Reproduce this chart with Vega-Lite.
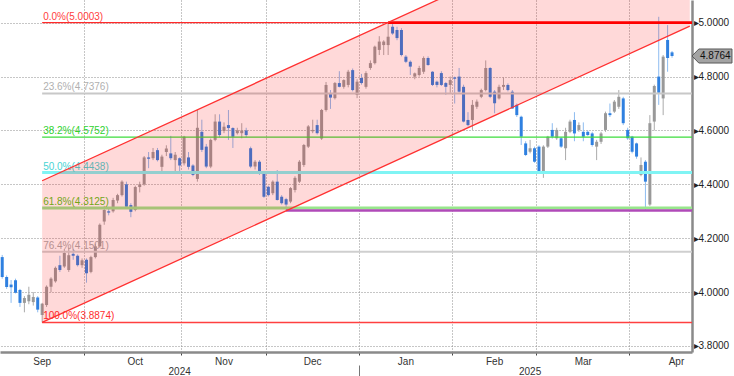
{
  "$schema": "https://vega.github.io/schema/vega-lite/v6.json",
  "width": 692,
  "height": 352,
  "padding": 0,
  "background": "white",
  "config": {"view": {"stroke": null}, "axis": {"labelFont": "Liberation Sans"}},
  "datasets": {
    "ohlc": [
      {"d":"2024-09-04","o":4.130,"h":4.138,"l":4.050,"c":4.056},
      {"d":"2024-09-05","o":4.056,"h":4.062,"l":4.012,"c":4.019},
      {"d":"2024-09-06","o":4.028,"h":4.045,"l":3.960,"c":4.018},
      {"d":"2024-09-09","o":4.044,"h":4.050,"l":3.995,"c":3.998},
      {"d":"2024-09-10","o":4.008,"h":4.012,"l":3.945,"c":3.960},
      {"d":"2024-09-11","o":3.960,"h":3.985,"l":3.925,"c":3.978},
      {"d":"2024-09-12","o":3.966,"h":4.020,"l":3.955,"c":3.990},
      {"d":"2024-09-13","o":3.963,"h":4.000,"l":3.950,"c":3.982},
      {"d":"2024-09-16","o":3.980,"h":3.985,"l":3.925,"c":3.935},
      {"d":"2024-09-17","o":3.915,"h":3.960,"l":3.8874,"c":3.957},
      {"d":"2024-09-18","o":3.952,"h":4.025,"l":3.945,"c":4.020},
      {"d":"2024-09-19","o":4.020,"h":4.055,"l":4.000,"c":4.050},
      {"d":"2024-09-20","o":4.040,"h":4.095,"l":4.035,"c":4.090},
      {"d":"2024-09-23","o":4.100,"h":4.135,"l":4.075,"c":4.082},
      {"d":"2024-09-24","o":4.095,"h":4.160,"l":4.090,"c":4.145},
      {"d":"2024-09-25","o":4.082,"h":4.165,"l":4.075,"c":4.137},
      {"d":"2024-09-26","o":4.142,"h":4.160,"l":4.120,"c":4.135},
      {"d":"2024-09-27","o":4.135,"h":4.140,"l":4.095,"c":4.100},
      {"d":"2024-09-30","o":4.100,"h":4.125,"l":4.090,"c":4.118},
      {"d":"2024-10-01","o":4.120,"h":4.125,"l":4.035,"c":4.070},
      {"d":"2024-10-02","o":4.075,"h":4.135,"l":4.070,"c":4.130},
      {"d":"2024-10-03","o":4.130,"h":4.180,"l":4.125,"c":4.170},
      {"d":"2024-10-04","o":4.170,"h":4.255,"l":4.165,"c":4.250},
      {"d":"2024-10-07","o":4.262,"h":4.320,"l":4.250,"c":4.305},
      {"d":"2024-10-08","o":4.300,"h":4.310,"l":4.285,"c":4.295},
      {"d":"2024-10-09","o":4.300,"h":4.350,"l":4.295,"c":4.342},
      {"d":"2024-10-10","o":4.340,"h":4.365,"l":4.330,"c":4.360},
      {"d":"2024-10-11","o":4.360,"h":4.415,"l":4.355,"c":4.410},
      {"d":"2024-10-15","o":4.400,"h":4.410,"l":4.310,"c":4.317},
      {"d":"2024-10-16","o":4.323,"h":4.330,"l":4.278,"c":4.298},
      {"d":"2024-10-17","o":4.305,"h":4.395,"l":4.300,"c":4.390},
      {"d":"2024-10-18","o":4.390,"h":4.410,"l":4.370,"c":4.400},
      {"d":"2024-10-21","o":4.400,"h":4.505,"l":4.395,"c":4.500},
      {"d":"2024-10-22","o":4.500,"h":4.520,"l":4.460,"c":4.495},
      {"d":"2024-10-23","o":4.497,"h":4.535,"l":4.490,"c":4.520},
      {"d":"2024-10-24","o":4.527,"h":4.535,"l":4.485,"c":4.490},
      {"d":"2024-10-25","o":4.465,"h":4.510,"l":4.440,"c":4.503},
      {"d":"2024-10-28","o":4.520,"h":4.545,"l":4.505,"c":4.533},
      {"d":"2024-10-29","o":4.515,"h":4.580,"l":4.490,"c":4.497},
      {"d":"2024-10-30","o":4.490,"h":4.520,"l":4.440,"c":4.510},
      {"d":"2024-10-31","o":4.497,"h":4.500,"l":4.440,"c":4.470},
      {"d":"2024-11-01","o":4.478,"h":4.580,"l":4.470,"c":4.577},
      {"d":"2024-11-04","o":4.500,"h":4.520,"l":4.455,"c":4.465},
      {"d":"2024-11-05","o":4.470,"h":4.475,"l":4.430,"c":4.435},
      {"d":"2024-11-06","o":4.420,"h":4.676,"l":4.410,"c":4.610},
      {"d":"2024-11-07","o":4.595,"h":4.640,"l":4.520,"c":4.528},
      {"d":"2024-11-08","o":4.540,"h":4.550,"l":4.460,"c":4.466},
      {"d":"2024-11-12","o":4.466,"h":4.570,"l":4.460,"c":4.565},
      {"d":"2024-11-13","o":4.565,"h":4.660,"l":4.560,"c":4.633},
      {"d":"2024-11-14","o":4.633,"h":4.660,"l":4.575,"c":4.583},
      {"d":"2024-11-15","o":4.598,"h":4.630,"l":4.590,"c":4.614},
      {"d":"2024-11-18","o":4.620,"h":4.676,"l":4.565,"c":4.609},
      {"d":"2024-11-19","o":4.609,"h":4.612,"l":4.535,"c":4.577},
      {"d":"2024-11-20","o":4.590,"h":4.610,"l":4.585,"c":4.600},
      {"d":"2024-11-21","o":4.590,"h":4.627,"l":4.571,"c":4.600},
      {"d":"2024-11-22","o":4.600,"h":4.610,"l":4.575,"c":4.583},
      {"d":"2024-11-25","o":4.534,"h":4.540,"l":4.460,"c":4.466},
      {"d":"2024-11-26","o":4.466,"h":4.490,"l":4.455,"c":4.484},
      {"d":"2024-11-27","o":4.484,"h":4.490,"l":4.435,"c":4.441},
      {"d":"2024-11-29","o":4.441,"h":4.445,"l":4.350,"c":4.354},
      {"d":"2024-12-02","o":4.391,"h":4.395,"l":4.355,"c":4.360},
      {"d":"2024-12-03","o":4.367,"h":4.415,"l":4.360,"c":4.410},
      {"d":"2024-12-04","o":4.410,"h":4.453,"l":4.340,"c":4.342},
      {"d":"2024-12-05","o":4.354,"h":4.360,"l":4.325,"c":4.330},
      {"d":"2024-12-06","o":4.345,"h":4.350,"l":4.303,"c":4.325},
      {"d":"2024-12-09","o":4.336,"h":4.390,"l":4.330,"c":4.386},
      {"d":"2024-12-10","o":4.379,"h":4.430,"l":4.370,"c":4.424},
      {"d":"2024-12-11","o":4.410,"h":4.490,"l":4.405,"c":4.484},
      {"d":"2024-12-12","o":4.472,"h":4.550,"l":4.465,"c":4.546},
      {"d":"2024-12-13","o":4.540,"h":4.620,"l":4.535,"c":4.615},
      {"d":"2024-12-16","o":4.597,"h":4.640,"l":4.590,"c":4.602},
      {"d":"2024-12-17","o":4.620,"h":4.640,"l":4.585,"c":4.590},
      {"d":"2024-12-18","o":4.570,"h":4.680,"l":4.565,"c":4.676},
      {"d":"2024-12-19","o":4.676,"h":4.780,"l":4.670,"c":4.769},
      {"d":"2024-12-20","o":4.735,"h":4.750,"l":4.680,"c":4.722},
      {"d":"2024-12-23","o":4.720,"h":4.780,"l":4.715,"c":4.776},
      {"d":"2024-12-24","o":4.776,"h":4.820,"l":4.760,"c":4.762},
      {"d":"2024-12-26","o":4.762,"h":4.790,"l":4.755,"c":4.787},
      {"d":"2024-12-27","o":4.769,"h":4.825,"l":4.760,"c":4.818},
      {"d":"2024-12-30","o":4.824,"h":4.830,"l":4.745,"c":4.750},
      {"d":"2024-12-31","o":4.732,"h":4.790,"l":4.720,"c":4.781},
      {"d":"2025-01-02","o":4.795,"h":4.810,"l":4.770,"c":4.776},
      {"d":"2025-01-03","o":4.762,"h":4.820,"l":4.755,"c":4.813},
      {"d":"2025-01-06","o":4.832,"h":4.860,"l":4.825,"c":4.850},
      {"d":"2025-01-07","o":4.850,"h":4.915,"l":4.845,"c":4.911},
      {"d":"2025-01-08","o":4.899,"h":4.950,"l":4.880,"c":4.930},
      {"d":"2025-01-09","o":4.917,"h":4.935,"l":4.880,"c":4.930},
      {"d":"2025-01-10","o":4.917,"h":5.0003,"l":4.880,"c":4.948},
      {"d":"2025-01-13","o":4.985,"h":4.995,"l":4.955,"c":4.960},
      {"d":"2025-01-14","o":4.973,"h":4.985,"l":4.935,"c":4.943},
      {"d":"2025-01-15","o":4.973,"h":4.980,"l":4.875,"c":4.880},
      {"d":"2025-01-16","o":4.874,"h":4.880,"l":4.850,"c":4.855},
      {"d":"2025-01-17","o":4.855,"h":4.860,"l":4.806,"c":4.837},
      {"d":"2025-01-21","o":4.800,"h":4.815,"l":4.790,"c":4.812},
      {"d":"2025-01-22","o":4.806,"h":4.840,"l":4.800,"c":4.832},
      {"d":"2025-01-23","o":4.818,"h":4.875,"l":4.810,"c":4.869},
      {"d":"2025-01-24","o":4.869,"h":4.875,"l":4.840,"c":4.843},
      {"d":"2025-01-27","o":4.818,"h":4.820,"l":4.765,"c":4.769},
      {"d":"2025-01-28","o":4.781,"h":4.785,"l":4.760,"c":4.769},
      {"d":"2025-01-29","o":4.813,"h":4.820,"l":4.765,"c":4.769},
      {"d":"2025-01-30","o":4.776,"h":4.780,"l":4.732,"c":4.762},
      {"d":"2025-01-31","o":4.769,"h":4.800,"l":4.740,"c":4.787},
      {"d":"2025-02-03","o":4.797,"h":4.800,"l":4.700,"c":4.792},
      {"d":"2025-02-04","o":4.800,"h":4.832,"l":4.740,"c":4.744},
      {"d":"2025-02-05","o":4.762,"h":4.770,"l":4.630,"c":4.633},
      {"d":"2025-02-06","o":4.639,"h":4.668,"l":4.615,"c":4.620},
      {"d":"2025-02-07","o":4.639,"h":4.713,"l":4.602,"c":4.695},
      {"d":"2025-02-10","o":4.688,"h":4.715,"l":4.680,"c":4.707},
      {"d":"2025-02-11","o":4.725,"h":4.755,"l":4.720,"c":4.750},
      {"d":"2025-02-12","o":4.750,"h":4.860,"l":4.745,"c":4.832},
      {"d":"2025-02-13","o":4.832,"h":4.835,"l":4.720,"c":4.725},
      {"d":"2025-02-14","o":4.744,"h":4.750,"l":4.664,"c":4.701},
      {"d":"2025-02-18","o":4.719,"h":4.770,"l":4.715,"c":4.762},
      {"d":"2025-02-19","o":4.762,"h":4.798,"l":4.750,"c":4.769},
      {"d":"2025-02-20","o":4.769,"h":4.775,"l":4.745,"c":4.750},
      {"d":"2025-02-21","o":4.744,"h":4.750,"l":4.680,"c":4.682},
      {"d":"2025-02-24","o":4.695,"h":4.700,"l":4.650,"c":4.657},
      {"d":"2025-02-25","o":4.651,"h":4.655,"l":4.546,"c":4.577},
      {"d":"2025-02-26","o":4.552,"h":4.560,"l":4.505,"c":4.509},
      {"d":"2025-02-27","o":4.521,"h":4.565,"l":4.515,"c":4.534},
      {"d":"2025-02-28","o":4.534,"h":4.540,"l":4.480,"c":4.484},
      {"d":"2025-03-03","o":4.540,"h":4.545,"l":4.440,"c":4.447},
      {"d":"2025-03-04","o":4.447,"h":4.545,"l":4.424,"c":4.540},
      {"d":"2025-03-05","o":4.540,"h":4.580,"l":4.535,"c":4.577},
      {"d":"2025-03-06","o":4.602,"h":4.627,"l":4.570,"c":4.577},
      {"d":"2025-03-07","o":4.571,"h":4.610,"l":4.565,"c":4.602},
      {"d":"2025-03-10","o":4.571,"h":4.575,"l":4.535,"c":4.540},
      {"d":"2025-03-11","o":4.534,"h":4.610,"l":4.490,"c":4.595},
      {"d":"2025-03-12","o":4.595,"h":4.640,"l":4.590,"c":4.633},
      {"d":"2025-03-13","o":4.639,"h":4.668,"l":4.560,"c":4.589},
      {"d":"2025-03-14","o":4.602,"h":4.630,"l":4.595,"c":4.620},
      {"d":"2025-03-17","o":4.595,"h":4.630,"l":4.560,"c":4.577},
      {"d":"2025-03-18","o":4.595,"h":4.600,"l":4.580,"c":4.583},
      {"d":"2025-03-19","o":4.589,"h":4.595,"l":4.540,"c":4.546},
      {"d":"2025-03-20","o":4.540,"h":4.565,"l":4.490,"c":4.558},
      {"d":"2025-03-21","o":4.558,"h":4.595,"l":4.550,"c":4.589},
      {"d":"2025-03-24","o":4.602,"h":4.670,"l":4.595,"c":4.664},
      {"d":"2025-03-25","o":4.664,"h":4.700,"l":4.650,"c":4.657},
      {"d":"2025-03-26","o":4.670,"h":4.713,"l":4.665,"c":4.707},
      {"d":"2025-03-27","o":4.688,"h":4.750,"l":4.680,"c":4.725},
      {"d":"2025-03-28","o":4.719,"h":4.725,"l":4.620,"c":4.627},
      {"d":"2025-03-31","o":4.602,"h":4.610,"l":4.565,"c":4.571},
      {"d":"2025-04-01","o":4.577,"h":4.580,"l":4.515,"c":4.521},
      {"d":"2025-04-02","o":4.552,"h":4.555,"l":4.495,"c":4.503},
      {"d":"2025-04-03","o":4.435,"h":4.500,"l":4.430,"c":4.472},
      {"d":"2025-04-04","o":4.484,"h":4.490,"l":4.305,"c":4.410},
      {"d":"2025-04-07","o":4.325,"h":4.657,"l":4.320,"c":4.627},
      {"d":"2025-04-08","o":4.633,"h":4.770,"l":4.600,"c":4.765},
      {"d":"2025-04-09","o":4.800,"h":5.022,"l":4.695,"c":4.740},
      {"d":"2025-04-10","o":4.719,"h":4.880,"l":4.657,"c":4.874},
      {"d":"2025-04-11","o":4.936,"h":4.991,"l":4.818,"c":4.869},
      {"d":"2025-04-14","o":4.890,"h":4.895,"l":4.870,"c":4.8764}
    ],
    "fib": [
      {"d":"2024-09-17","v":5.0003,"t":"0.0%(5.0003)"},
      {"d":"2024-09-17","v":4.7376,"t":"23.6%(4.7376)"},
      {"d":"2024-09-17","v":4.5752,"t":"38.2%(4.5752)"},
      {"d":"2024-09-17","v":4.4438,"t":"50.0%(4.4438)"},
      {"d":"2024-09-17","v":4.3125,"t":"61.8%(4.3125)"},
      {"d":"2024-09-17","v":4.1501,"t":"76.4%(4.1501)"},
      {"d":"2024-09-17","v":3.8874,"t":"100.0%(3.8874)"}
    ],
    "chan": [
      {"d":"2024-09-17","lo":3.8874,"hi":4.4134},
      {"d":"2025-04-18","lo":4.9871,"hi":5.5131}
    ]
  },
  "resolve": {"axis": {"x": "independent"}},
  "layer": [
    {
      "data": {"name": "ohlc"},
      "mark": {"type": "rule", "strokeWidth": 1},
      "encoding": {
        "x": {
          "field": "d", "type": "ordinal",
          "scale": {"domain": [
            "2024-09-04","2024-09-05","2024-09-06","2024-09-09","2024-09-10","2024-09-11","2024-09-12","2024-09-13","2024-09-16","2024-09-17","2024-09-18","2024-09-19","2024-09-20","2024-09-23","2024-09-24","2024-09-25","2024-09-26","2024-09-27","2024-09-30",
            "2024-10-01","2024-10-02","2024-10-03","2024-10-04","2024-10-07","2024-10-08","2024-10-09","2024-10-10","2024-10-11","2024-10-15","2024-10-16","2024-10-17","2024-10-18","2024-10-21","2024-10-22","2024-10-23","2024-10-24","2024-10-25","2024-10-28","2024-10-29","2024-10-30","2024-10-31",
            "2024-11-01","2024-11-04","2024-11-05","2024-11-06","2024-11-07","2024-11-08","2024-11-12","2024-11-13","2024-11-14","2024-11-15","2024-11-18","2024-11-19","2024-11-20","2024-11-21","2024-11-22","2024-11-25","2024-11-26","2024-11-27","2024-11-29",
            "2024-12-02","2024-12-03","2024-12-04","2024-12-05","2024-12-06","2024-12-09","2024-12-10","2024-12-11","2024-12-12","2024-12-13","2024-12-16","2024-12-17","2024-12-18","2024-12-19","2024-12-20","2024-12-23","2024-12-24","2024-12-26","2024-12-27","2024-12-30","2024-12-31",
            "2025-01-02","2025-01-03","2025-01-06","2025-01-07","2025-01-08","2025-01-09","2025-01-10","2025-01-13","2025-01-14","2025-01-15","2025-01-16","2025-01-17","2025-01-21","2025-01-22","2025-01-23","2025-01-24","2025-01-27","2025-01-28","2025-01-29","2025-01-30","2025-01-31",
            "2025-02-03","2025-02-04","2025-02-05","2025-02-06","2025-02-07","2025-02-10","2025-02-11","2025-02-12","2025-02-13","2025-02-14","2025-02-18","2025-02-19","2025-02-20","2025-02-21","2025-02-24","2025-02-25","2025-02-26","2025-02-27","2025-02-28",
            "2025-03-03","2025-03-04","2025-03-05","2025-03-06","2025-03-07","2025-03-10","2025-03-11","2025-03-12","2025-03-13","2025-03-14","2025-03-17","2025-03-18","2025-03-19","2025-03-20","2025-03-21","2025-03-24","2025-03-25","2025-03-26","2025-03-27","2025-03-28","2025-03-31",
            "2025-04-01","2025-04-02","2025-04-03","2025-04-04","2025-04-07","2025-04-08","2025-04-09","2025-04-10","2025-04-11","2025-04-14","2025-04-15","2025-04-16","2025-04-17","2025-04-18"
          ], "paddingInner": 0, "paddingOuter": 0},
          "axis": {
            "orient": "bottom", "title": null,
            "values": ["2024-10-01","2024-11-01","2024-12-02","2025-01-02","2025-02-03","2025-03-03","2025-04-01"],
            "bandPosition": 0, "grid": true, "gridColor": "#8c8c8c", "gridDash": [1, 2], "gridWidth": 1,
            "labels": false, "ticks": true, "tickSize": 3, "tickColor": "#444", "tickWidth": 1,
            "domain": true, "domainColor": "#8a8a8a", "domainWidth": 2.5
          }
        },
        "y": {
          "field": "l", "type": "quantitative", "title": null,
          "scale": {"domain": [3.7777, 5.0843], "zero": false, "nice": false},
          "axis": {
            "orient": "right",
            "values": [3.8,3.9,4.0,4.1,4.2,4.3,4.4,4.5,4.6,4.7,4.8,4.9,5.0],
            "grid": true, "gridColor": "#8c8c8c", "gridDash": [1, 2], "gridWidth": 1,
            "gridOpacity": {"condition": {"test": "round(datum.value*10) % 2 == 0", "value": 1}, "value": 0},
            "labelExpr": "round(datum.value*10) % 2 == 0 ? '▸' + format(datum.value, '.4f') : ''",
            "tickSize": 4, "tickColor": "#222", "tickWidth": 1,
            "tickOpacity": {"condition": {"test": "round(datum.value*10) % 2 == 0", "value": 0}, "value": 1},
            "domainColor": "#8a8a8a", "domainWidth": 2.5,
            "labelFont": "Liberation Sans", "labelFontSize": 10, "labelColor": "#222",
            "labelPadding": -3, "labelBaseline": "middle", "labelOverlap": false
          }
        },
        "y2": {"field": "h"},
        "color": {"condition": {"test": "datum.c >= datum.o", "value": "#ababab"}, "value": "#8dbcf0"}
      }
    },
    {
      "data": {"name": "ohlc"},
      "mark": {"type": "bar", "size": 3},
      "encoding": {
        "x": {
          "field": "d", "type": "ordinal",
          "axis": {
            "orient": "bottom", "title": null,
            "values": ["2024-09-17","2024-10-17","2024-11-15","2024-12-16","2025-01-16","2025-02-14","2025-03-17","2025-04-15"],
            "bandPosition": 0, "grid": false, "ticks": false, "tickSize": 0, "domain": false,
            "labelExpr": "utcFormat(toDate(datum.value), '%b')",
            "labelAngle": 0, "labelAlign": "center", "labelBaseline": "top",
            "labelFont": "Liberation Sans", "labelFontSize": 10, "labelColor": "#333",
            "labelPadding": 4, "labelOverlap": false
          }
        },
        "y": {"field": "o", "type": "quantitative", "title": null},
        "y2": {"field": "c"},
        "color": {"condition": {"test": "datum.c >= datum.o", "value": "#999999"}, "value": "#2f80e0"}
      }
    },
    {
      "data": {"name": "fib"},
      "mark": {"type": "rule"},
      "encoding": {
        "x": {
          "field": "d", "type": "ordinal",
          "axis": {
            "orient": "bottom", "title": null, "offset": 13,
            "values": ["2024-10-31","2025-01-02","2025-02-27"],
            "bandPosition": 0, "grid": false, "domain": false,
            "ticks": true, "tickSize": 11, "tickColor": "#777", "tickWidth": 1,
            "tickOpacity": {"condition": {"test": "datum.value == '2025-01-02'", "value": 1}, "value": 0},
            "labelExpr": "datum.value == '2025-01-02' ? '' : slice(datum.value, 0, 4)",
            "labelAngle": 0, "labelAlign": "center", "labelBaseline": "top",
            "labelFont": "Liberation Sans", "labelFontSize": 10, "labelColor": "#333",
            "labelPadding": -10, "labelOverlap": false
          }
        },
        "x2": {"value": "width"},
        "y": {"field": "v", "type": "quantitative", "title": null},
        "stroke": {
          "field": "t", "type": "nominal", "legend": null,
          "scale": {
            "domain": ["0.0%(5.0003)","23.6%(4.7376)","38.2%(4.5752)","50.0%(4.4438)","61.8%(4.3125)","76.4%(4.1501)","100.0%(3.8874)"],
            "range": ["#ff2a2a","#c8c8c8","#3ddc3d","#80f4f4","#98e68c","#cfcfcf","#ff4040"]
          }
        },
        "strokeWidth": {
          "condition": [
            {"test": "datum.v == 4.4438 || datum.v == 4.3125", "value": 3},
            {"test": "datum.v == 4.7376 || datum.v == 4.1501", "value": 2}
          ],
          "value": 1.4
        }
      }
    },
    {
      "data": {"name": "fib"},
      "mark": {"type": "text", "align": "left", "baseline": "alphabetic", "dx": 1, "dy": -3, "font": "Liberation Sans", "fontSize": 10},
      "encoding": {
        "x": {"field": "d", "type": "ordinal", "axis": null},
        "y": {"field": "v", "type": "quantitative", "title": null},
        "text": {"field": "t"},
        "color": {
          "field": "t", "type": "nominal", "legend": null,
          "scale": {
            "domain": ["0.0%(5.0003)","23.6%(4.7376)","38.2%(4.5752)","50.0%(4.4438)","61.8%(4.3125)","76.4%(4.1501)","100.0%(3.8874)"],
            "range": ["#ff4040","#b0b0b0","#2fd22f","#48d4d4","#58c41a","#aaaaaa","#ff2d2d"]
          }
        }
      }
    },
    {
      "data": {"values": [{"d": "2025-01-10", "v": 5.0003}]},
      "mark": {"type": "rule", "color": "#ff0000", "strokeWidth": 2.6},
      "encoding": {
        "x": {"field": "d", "type": "ordinal", "axis": null},
        "x2": {"value": "width"},
        "y": {"field": "v", "type": "quantitative", "title": null}
      }
    },
    {
      "data": {"values": [{"d": "2024-12-06", "v": 4.303}]},
      "mark": {"type": "rule", "color": "#b04ab8", "strokeWidth": 2.6},
      "encoding": {
        "x": {"field": "d", "type": "ordinal", "axis": null},
        "x2": {"value": "width"},
        "y": {"field": "v", "type": "quantitative", "title": null}
      }
    },
    {
      "data": {"name": "chan"},
      "mark": {"type": "area", "clip": true, "color": "#ff0000", "fillOpacity": 0.15},
      "encoding": {
        "x": {"field": "d", "type": "ordinal", "axis": null},
        "y": {"field": "lo", "type": "quantitative", "title": null},
        "y2": {"field": "hi"}
      }
    },
    {
      "data": {"name": "chan"},
      "mark": {"type": "line", "clip": true, "color": "#ff3030", "strokeWidth": 1.3},
      "encoding": {
        "x": {"field": "d", "type": "ordinal", "axis": null},
        "y": {"field": "lo", "type": "quantitative", "title": null}
      }
    },
    {
      "data": {"name": "chan"},
      "mark": {"type": "line", "clip": true, "color": "#ff3030", "strokeWidth": 1.3},
      "encoding": {
        "x": {"field": "d", "type": "ordinal", "axis": null},
        "y": {"field": "hi", "type": "quantitative", "title": null}
      }
    },
    {
      "data": {"name": "ohlc"},
      "transform": [{"filter": "datum.d == '2025-04-14'"}],
      "mark": {"type": "point", "shape": "M0,0L0.35,-0.36H2.05V0.36H0.35Z", "size": 1521, "filled": true, "fill": "#a3a3a3", "stroke": "#5a5a5a", "strokeWidth": 1, "opacity": 1},
      "encoding": {
        "x": {"value": "width"},
        "y": {"field": "c", "type": "quantitative", "title": null}
      }
    },
    {
      "data": {"name": "ohlc"},
      "transform": [{"filter": "datum.d == '2025-04-14'"}],
      "mark": {"type": "text", "align": "left", "baseline": "middle", "dx": 8, "font": "Liberation Sans", "fontSize": 10, "color": "#111"},
      "encoding": {
        "x": {"value": "width"},
        "y": {"field": "c", "type": "quantitative", "title": null},
        "text": {"field": "c", "type": "quantitative", "format": ".4f"}
      }
    }
  ]
}
